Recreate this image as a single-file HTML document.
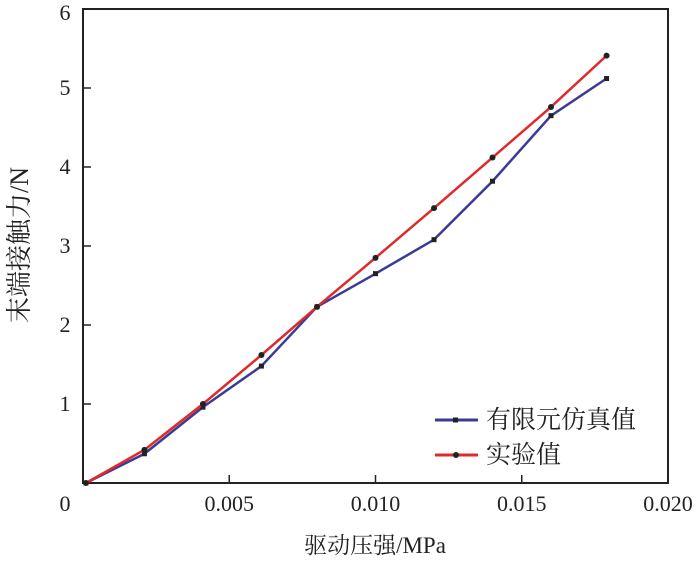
<!DOCTYPE html>
<html><head><meta charset="utf-8"><style>
body{margin:0;background:#fff}
svg text{font-family:"Liberation Serif","Noto Serif CJK SC",serif;fill:#222}
</style></head><body>
<svg id="c" width="700" height="558"></svg>
<script>
const xValues=[0.0001,0.0021,0.0041,0.0061,0.0080,0.0100,0.0120,0.0140,0.0160,0.0179];
const simValues=[0,0.37,0.96,1.48,2.23,2.65,3.08,3.82,4.65,5.12];
const expValues=[0,0.42,1.0,1.62,2.23,2.85,3.48,4.12,4.76,5.41];
const xTicks=[0,0.005,0.010,0.015,0.020];
const xTickLabels=["0","0.005","0.010","0.015","0.020"];
const yTicks=[1,2,3,4,5,6];
const L=83,R=668,T=9,B=483;
const xs=v=>L+v/0.020*(R-L);
const ys=v=>B-v/6*(B-T);
const svg=document.getElementById('c');
const NS='http://www.w3.org/2000/svg';
function mk(t,a,p){const e=document.createElementNS(NS,t);for(const k in a)e.setAttribute(k,a[k]);(p||svg).appendChild(e);return e;}
let e;
e=mk('rect',{x:L,y:T,width:R-L,height:B-T,fill:'none',stroke:'#222','stroke-width':2});


xTicks.forEach((v,i)=>{
 e=mk('line',{x1:xs(v),x2:xs(v),y1:B,y2:B-8,stroke:'#222','stroke-width':1.5});
 
 
 e=mk('text',{x:i==0?65:xs(v),y:511,'font-size':22,'text-anchor':'middle'});e.textContent=xTickLabels[i];
 
 
});
e=mk('text',{x:65,y:20,'font-size':22,'text-anchor':'middle'});e.textContent='6';


yTicks.forEach(v=>{
 e=mk('line',{x1:L,x2:L+8,y1:ys(v),y2:ys(v),stroke:'#222','stroke-width':1.5});
 
 
 if(v<6){e=mk('text',{x:65,y:ys(v)+7,'font-size':22,'text-anchor':'middle'});e.textContent=String(v);
 
 }
});
function series(vals,color,name,shape){
 const g=mk('g',{});
 
 
 const pts=xValues.map((x,i)=>xs(x)+','+ys(vals[i])).join(' ');
 mk('polyline',{points:pts,fill:'none',stroke:color,'stroke-width':2.5},g);
 xValues.forEach((x,i)=>{
  if(shape=='sq')e=mk('rect',{x:xs(x)-2.5,y:ys(vals[i])-2.5,width:5,height:5,fill:'#222'},g);
  else e=mk('circle',{cx:xs(x),cy:ys(vals[i]),r:3,fill:'#222'},g);
  
  
 });
}
series(simValues,'#3b3b95','simulation-series','sq');
series(expValues,'#e02a2a','experiment-series','c');
function leg(y,color,label,shape,name){
 const g=mk('g',{});
 
 
 mk('line',{x1:435,x2:478,y1:y,y2:y,stroke:color,'stroke-width':3},g);
 if(shape=='sq')mk('rect',{x:453,y:y-2.5,width:5,height:5,fill:'#222'},g);else mk('circle',{cx:456,cy:y,r:3,fill:'#222'},g);
 const t=mk('text',{x:486,y:y+8,'font-size':25},g);t.textContent=label;
}
leg(420,'#3b3b95','有限元仿真值','sq','legend-entry-simulation');
leg(455,'#e02a2a','实验值','c','legend-entry-experiment');
e=mk('text',{x:375,y:553,'font-size':23,'text-anchor':'middle'});e.textContent='驱动压强/MPa';


e=mk('text',{x:0,y:0,'font-size':26,'text-anchor':'middle',transform:'translate(28,245) rotate(-90)'});e.textContent='末端接触力/N';


</script>
</body></html>
